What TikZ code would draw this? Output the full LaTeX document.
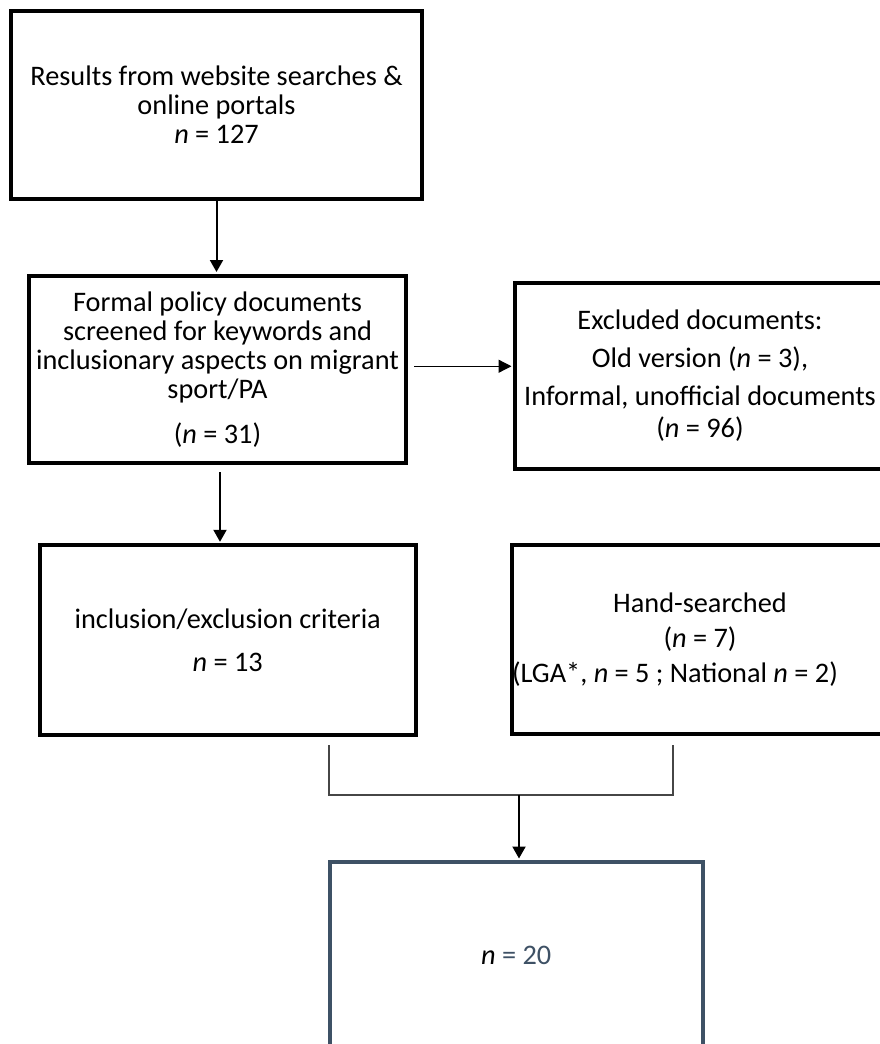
\documentclass[tikz,border=0pt]{standalone}
\usepackage{fontspec}
\setmainfont{Carlito}
\usetikzlibrary{arrows.meta}
\definecolor{slate}{RGB}{62,81,101}
\definecolor{brk}{RGB}{70,70,70}
\begin{document}
\begin{tikzpicture}[x=1pt,y=-1pt,
  box/.style={draw=black,line width=4pt,rectangle,inner sep=0pt,align=center,text=black},
  fs29/.style={font=\fontsize{28.3}{29}\selectfont},
  fs38/.style={font=\fontsize{28.3}{38}\selectfont},
  fs35/.style={font=\fontsize{28.3}{35}\selectfont},
  arr/.style={draw=black,line width=2pt,-{Triangle[width=13pt,length=12pt]},shorten >=1.5pt},
  thinarr/.style={draw=black,line width=1.3pt,-{Triangle[width=13pt,length=13pt]},shorten >=1.5pt},
  brack/.style={draw=brk,line width=1.5pt}]
\fill[white] (0,0) rectangle (880,1044);
\useasboundingbox (0,0) rectangle (880,1044);

\node[box,fs29,minimum width=411pt,minimum height=188pt] (res) at (216.5,105)
  {Results from website searches \&\\ online portals\\ \textit{n} = 127};
\node[box,fs29,minimum width=377pt,minimum height=187.5pt] (scr) at (217.5,369.25)
  {Formal policy documents\\ screened for keywords and\\ inclusionary aspects on migrant\\ sport/PA\\[16pt] (\textit{n} = 31)};
\node[box,fs38,minimum width=370pt,minimum height=186pt] (exc) at (700,376)
  {Excluded documents:\\ Old version (\textit{n} = 3),\\ Informal, unofficial documents\\[-6pt] (\textit{n} = 96)};
\node[box,fs29,minimum width=376.5pt,minimum height=189.4pt] (inc) at (227.75,640)
  {inclusion/exclusion criteria\\[14pt] \textit{n} = 13};
\node[box,fs35,minimum width=374pt,minimum height=189pt] (hand) at (700,639.5)
  {Hand-searched\\ (\textit{n} = 7)\\ (LGA*, \textit{n} = 5 ; National \textit{n} = 2)\rule{50pt}{0pt}};
\node[box,fs29,draw=slate,minimum width=373.5pt,minimum height=186pt] (fin) at (516.25,955)
  {\textit{n} {\color{slate}= 20}};

\draw[arr] (res.south) -- (res.south |- scr.north);
\draw[thinarr] ([shift={(6,-3)}]scr.east) -- ([shift={(0,-3)}]scr.east -| exc.west);
\draw[arr] ([shift={(2.5,7)}]scr.south) -- ([shift={(2.5,0)}]scr.south |- inc.north);

\coordinate (bl) at (329,745);
\coordinate (br) at (673,745);
\coordinate (jn) at (519,795);
\draw[brack] (bl) |- (jn) -| (br);
\draw[arr] (jn) -- (jn |- fin.north);
\end{tikzpicture}
\end{document}
